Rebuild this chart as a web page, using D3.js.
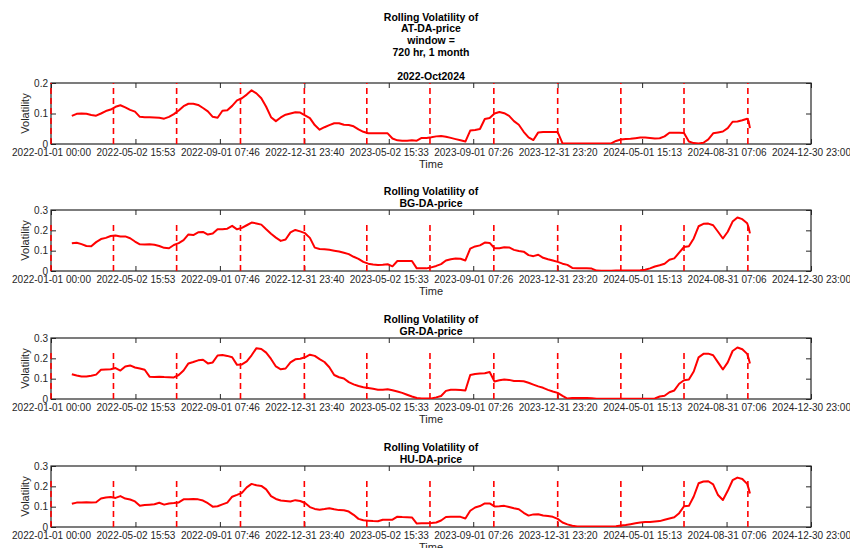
<!DOCTYPE html>
<html>
<head>
<meta charset="utf-8">
<script src="https://cdn.jsdelivr.net/npm/d3@7"></script>
<style>
  html, body { margin: 0; padding: 0; background: #ffffff; }
  svg { display: block; font-family: "Liberation Sans", Arial, Helvetica, sans-serif; }
</style>
</head>
<body>
<svg id="chart" width="850" height="548"></svg>
<script>
// Weekly sample dates of the 720 h rolling volatility (first full window ends late Jan 2022)
const dates = [
  "2022-01-31","2022-02-07","2022-02-14","2022-02-21","2022-02-28","2022-03-07","2022-03-14","2022-03-21","2022-03-28","2022-04-04",
  "2022-04-11","2022-04-18","2022-04-25","2022-05-02","2022-05-09","2022-05-16","2022-05-23","2022-05-30","2022-06-06","2022-06-13",
  "2022-06-20","2022-06-27","2022-07-04","2022-07-11","2022-07-18","2022-07-25","2022-08-01","2022-08-08","2022-08-15","2022-08-22",
  "2022-08-29","2022-09-05","2022-09-12","2022-09-19","2022-09-26","2022-10-03","2022-10-10","2022-10-17","2022-10-24","2022-10-31",
  "2022-11-07","2022-11-14","2022-11-21","2022-11-28","2022-12-05","2022-12-12","2022-12-19","2022-12-26","2023-01-02","2023-01-09",
  "2023-01-16","2023-01-23","2023-01-30","2023-02-06","2023-02-13","2023-02-20","2023-02-27","2023-03-06","2023-03-13","2023-03-20",
  "2023-03-27","2023-04-03","2023-04-10","2023-04-17","2023-04-24","2023-05-01","2023-05-08","2023-05-15","2023-05-22","2023-05-29",
  "2023-06-05","2023-06-12","2023-06-19","2023-06-26","2023-07-03","2023-07-10","2023-07-17","2023-07-24","2023-07-31","2023-08-07",
  "2023-08-14","2023-08-21","2023-08-28","2023-09-04","2023-09-11","2023-09-18","2023-09-25","2023-10-02","2023-10-09","2023-10-16",
  "2023-10-23","2023-10-30","2023-11-06","2023-11-13","2023-11-20","2023-11-27","2023-12-04","2023-12-11","2023-12-18","2023-12-25",
  "2024-01-01","2024-01-08","2024-01-15","2024-01-22","2024-01-29","2024-02-05","2024-02-12","2024-02-19","2024-02-26","2024-03-04",
  "2024-03-11","2024-03-18","2024-03-25","2024-04-01","2024-04-08","2024-04-15","2024-04-22","2024-04-29","2024-05-06","2024-05-13",
  "2024-05-20","2024-05-27","2024-06-03","2024-06-10","2024-06-17","2024-06-24","2024-07-01","2024-07-08","2024-07-15","2024-07-22",
  "2024-07-29","2024-08-05","2024-08-12","2024-08-19","2024-08-26","2024-09-02","2024-09-09","2024-09-16","2024-09-23","2024-09-30",
  "2024-10-02","2024-10-04"
];

const atVol = [
  0.092,0.099,0.100,0.099,0.095,0.093,0.100,0.108,0.113,0.122,
  0.127,0.120,0.112,0.106,0.089,0.088,0.088,0.087,0.086,0.083,
  0.089,0.098,0.110,0.124,0.132,0.132,0.128,0.118,0.107,0.089,
  0.086,0.109,0.111,0.125,0.143,0.150,0.162,0.176,0.166,0.150,
  0.122,0.088,0.075,0.087,0.096,0.100,0.104,0.103,0.094,0.085,
  0.062,0.047,0.055,0.062,0.068,0.068,0.063,0.062,0.058,0.048,
  0.040,0.035,0.035,0.035,0.035,0.035,0.018,0.012,0.011,0.011,
  0.012,0.011,0.020,0.020,0.022,0.025,0.026,0.024,0.020,0.016,
  0.012,0.008,0.044,0.046,0.049,0.082,0.085,0.100,0.105,0.101,
  0.092,0.075,0.063,0.040,0.022,0.013,0.038,0.039,0.039,0.039,
  0.039,0.002,0.002,0.002,0.002,0.002,0.002,0.002,0.002,0.002,
  0.002,0.002,0.010,0.015,0.016,0.017,0.019,0.021,0.021,0.020,
  0.018,0.019,0.025,0.037,0.037,0.037,0.036,0.008,0.003,0.002,
  0.004,0.015,0.035,0.038,0.041,0.052,0.073,0.074,0.078,0.083,
  0.075,0.052
];

const bgVol = [
  0.136,0.139,0.132,0.123,0.122,0.142,0.157,0.163,0.172,0.175,
  0.170,0.170,0.161,0.145,0.131,0.130,0.131,0.129,0.123,0.114,
  0.112,0.128,0.137,0.152,0.180,0.177,0.190,0.192,0.179,0.184,
  0.205,0.205,0.208,0.222,0.205,0.212,0.225,0.238,0.234,0.228,
  0.205,0.183,0.164,0.148,0.155,0.190,0.202,0.195,0.186,0.163,
  0.115,0.108,0.107,0.104,0.100,0.096,0.090,0.083,0.070,0.060,
  0.045,0.036,0.032,0.030,0.031,0.033,0.023,0.049,0.049,0.049,
  0.049,0.013,0.013,0.013,0.018,0.025,0.034,0.052,0.058,0.062,
  0.060,0.052,0.110,0.121,0.126,0.140,0.138,0.112,0.112,0.117,
  0.116,0.104,0.098,0.095,0.078,0.073,0.080,0.065,0.058,0.052,
  0.045,0.036,0.030,0.015,0.013,0.013,0.013,0.012,0.002,0.001,
  0.001,0.001,0.002,0.003,0.003,0.003,0.003,0.004,0.006,0.013,
  0.022,0.028,0.036,0.055,0.062,0.090,0.118,0.122,0.160,0.220,
  0.232,0.233,0.225,0.193,0.160,0.193,0.243,0.263,0.255,0.235,
  0.215,0.185
];

const grVol = [
  0.122,0.116,0.111,0.111,0.114,0.120,0.144,0.145,0.146,0.152,
  0.140,0.160,0.165,0.155,0.150,0.144,0.110,0.108,0.110,0.108,
  0.107,0.106,0.118,0.140,0.175,0.182,0.190,0.193,0.175,0.180,
  0.214,0.216,0.212,0.205,0.168,0.170,0.185,0.215,0.250,0.246,
  0.228,0.197,0.160,0.146,0.150,0.180,0.195,0.198,0.205,0.218,
  0.212,0.196,0.182,0.156,0.118,0.107,0.101,0.083,0.072,0.064,
  0.058,0.054,0.050,0.046,0.046,0.048,0.043,0.037,0.030,0.021,
  0.012,0.005,0.003,0.002,0.003,0.008,0.015,0.040,0.045,0.045,
  0.044,0.042,0.118,0.123,0.125,0.127,0.133,0.086,0.092,0.096,
  0.094,0.089,0.088,0.087,0.080,0.071,0.062,0.055,0.045,0.037,
  0.030,0.015,0.002,0.005,0.005,0.005,0.005,0.004,0.001,0.001,
  0.001,0.001,0.001,0.001,0.001,0.001,0.001,0.001,0.001,0.001,
  0.003,0.012,0.016,0.033,0.042,0.075,0.092,0.096,0.135,0.205,
  0.222,0.223,0.215,0.180,0.145,0.180,0.236,0.253,0.245,0.222,
  0.200,0.175
];

const huVol = [
  0.114,0.120,0.121,0.122,0.120,0.122,0.140,0.145,0.148,0.143,
  0.152,0.140,0.135,0.126,0.105,0.108,0.110,0.112,0.119,0.110,
  0.116,0.118,0.121,0.136,0.137,0.138,0.136,0.130,0.117,0.100,
  0.102,0.111,0.120,0.149,0.158,0.168,0.195,0.212,0.205,0.202,
  0.185,0.152,0.138,0.130,0.128,0.125,0.132,0.128,0.118,0.098,
  0.089,0.085,0.088,0.092,0.087,0.083,0.082,0.076,0.060,0.040,
  0.033,0.031,0.029,0.028,0.036,0.036,0.036,0.051,0.049,0.048,
  0.047,0.017,0.018,0.019,0.020,0.022,0.032,0.049,0.051,0.051,
  0.050,0.042,0.080,0.096,0.103,0.116,0.116,0.101,0.102,0.104,
  0.098,0.092,0.087,0.070,0.056,0.062,0.063,0.057,0.054,0.050,
  0.040,0.022,0.013,0.006,0.003,0.003,0.003,0.003,0.003,0.003,
  0.003,0.003,0.004,0.007,0.010,0.014,0.018,0.022,0.024,0.025,
  0.027,0.029,0.036,0.042,0.048,0.068,0.102,0.104,0.150,0.215,
  0.224,0.225,0.210,0.157,0.133,0.178,0.230,0.243,0.236,0.212,
  0.190,0.165
];

// Quarter boundaries marked with dashed lines
const quarterStarts = [
  "2022-01-01","2022-04-01","2022-07-01","2022-10-01",
  "2023-01-01","2023-04-01","2023-07-01","2023-10-01",
  "2024-01-01","2024-04-01","2024-07-01","2024-10-01"
];
const quarterLineTop = 0.24;

const xTickLabels = [
  "2022-01-01 00:00","2022-05-02 15:53","2022-09-01 07:46","2022-12-31 23:40",
  "2023-05-02 15:33","2023-09-01 07:26","2023-12-31 23:20","2024-05-01 15:13",
  "2024-08-31 07:06","2024-12-30 23:00"
];
const axisRange = ["2022-01-01 00:00", "2024-12-30 23:00"];

const seriesNames = ["AT-DA-price", "BG-DA-price", "GR-DA-price", "HU-DA-price"];
const seriesValues = [atVol, bgVol, grVol, huVol];
const yMaxes = [0.2, 0.3, 0.3, 0.3];
const yTickSets = [[0, 0.1, 0.2], [0, 0.1, 0.2, 0.3], [0, 0.1, 0.2, 0.3], [0, 0.1, 0.2, 0.3]];

// ---- layout ----
const plotLeft = 51, plotRight = 811, plotH = 61;
const panelTops = [83, 210, 338, 466];
const textColor = "#262626";

const parseDay = d3.utcParse("%Y-%m-%d");
const parseStamp = d3.utcParse("%Y-%m-%d %H:%M");
const t0 = parseStamp(axisRange[0]), t1 = parseStamp(axisRange[1]);
const x = d3.scaleUtc().domain([t0, t1]).range([plotLeft, plotRight]);
// ticks spread evenly over the axis span
const tickDates = xTickLabels.map((_, i) => new Date(+t0 + i * (t1 - t0) / (xTickLabels.length - 1)));
const parsedDates = dates.map(parseDay);
const quarterDates = quarterStarts.map(parseDay);

const svg = d3.select("#chart");
svg.append("rect").attr("width", 850).attr("height", 548).attr("fill", "#fff");

const defs = svg.append("defs");

seriesNames.forEach((name, p) => {
  const top = panelTops[p], bottom = top + plotH;
  const y = d3.scaleLinear().domain([0, yMaxes[p]]).range([bottom, top]);
  const g = svg.append("g");

  // titles
  const titleLines = p === 0
    ? ["Rolling Volatility of", name, "window =", "720 hr, 1 month"]
    : ["Rolling Volatility of", name];
  const cx = (plotLeft + plotRight) / 2;
  const title = g.append("g")
    .attr("font-weight", "bold").attr("font-size", 10.5)
    .attr("text-anchor", "middle").attr("fill", "#000");
  if (p === 0) {
    titleLines.forEach((line, i) => {
      title.append("text").attr("x", cx).attr("y", 20.5 + i * 11.9).text(line);
    });
    title.append("text").attr("x", cx).attr("y", top - 3.5).text("2022-Oct2024");
  } else {
    titleLines.forEach((line, i) => {
      title.append("text").attr("x", cx)
        .attr("y", top - 3.5 - (titleLines.length - 1 - i) * 12).text(line);
    });
  }

  // clip for plotted marks
  const clipId = "clip" + p;
  defs.append("clipPath").attr("id", clipId)
    .append("rect").attr("x", plotLeft - 1).attr("y", top).attr("width", plotRight - plotLeft + 2).attr("height", plotH);

  // bottom axis with inward ticks and labels
  const xAxis = d3.axisBottom(x).tickValues(tickDates)
    .tickFormat((d, i) => xTickLabels[i]).tickSizeInner(-5).tickSizeOuter(0).tickPadding(4.4);
  const gx = g.append("g").attr("transform", `translate(0,${bottom})`).call(xAxis);
  // top axis ticks only
  const gxt = g.append("g").attr("transform", `translate(0,${top})`)
    .call(d3.axisTop(x).tickValues(tickDates).tickFormat("").tickSizeInner(-5).tickSizeOuter(0));
  // left axis
  const yAxis = d3.axisLeft(y).tickValues(yTickSets[p])
    .tickFormat(d => d === 0 ? "0" : d3.format(".1f")(d)).tickSizeInner(-5).tickSizeOuter(0).tickPadding(3);
  const gy = g.append("g").attr("transform", `translate(${plotLeft},0)`).call(yAxis);
  const gyr = g.append("g").attr("transform", `translate(${plotRight},0)`)
    .call(d3.axisRight(y).tickValues(yTickSets[p]).tickFormat("").tickSizeInner(-5).tickSizeOuter(0));

  [gx, gxt, gy, gyr].forEach(a => {
    a.select(".domain").remove();
    a.selectAll("line").attr("stroke", textColor).attr("stroke-width", 1);
    a.selectAll("text").attr("fill", textColor).attr("font-size", 10)
      .attr("font-family", "Liberation Sans, Arial, sans-serif");
  });

  // axes box
  g.append("rect").attr("x", plotLeft).attr("y", top)
    .attr("width", plotRight - plotLeft).attr("height", plotH)
    .attr("fill", "none").attr("stroke", textColor).attr("stroke-width", 1.2);

  // axis labels
  g.append("text").attr("x", cx).attr("y", bottom + 24).attr("text-anchor", "middle")
    .attr("font-size", 11).attr("fill", textColor).text("Time");
  g.append("text").attr("transform", `translate(29,${(top + bottom) / 2}) rotate(-90)`)
    .attr("text-anchor", "middle").attr("font-size", 11).attr("fill", textColor).text("Volatility");

  const marks = g.append("g").attr("clip-path", `url(#${clipId})`);

  // quarter markers
  marks.selectAll("line.q").data(quarterDates).join("line")
    .attr("class", "q")
    .attr("x1", d => x(d)).attr("x2", d => x(d))
    .attr("y1", y(0)).attr("y2", y(Math.min(quarterLineTop, yMaxes[p])))
    .attr("stroke", "#ff0000").attr("stroke-width", 1.6).attr("stroke-dasharray", "6,4");

  // volatility line
  const vals = seriesValues[p];
  const pts = parsedDates.map((d, i) => ({ d, v: vals[i] }));
  marks.append("path").datum(pts)
    .attr("fill", "none").attr("stroke", "#ff0000").attr("stroke-width", 2)
    .attr("stroke-linejoin", "round")
    .attr("d", d3.line().x(d => x(d.d)).y(d => y(d.v)));
});
</script>
</body>
</html>
